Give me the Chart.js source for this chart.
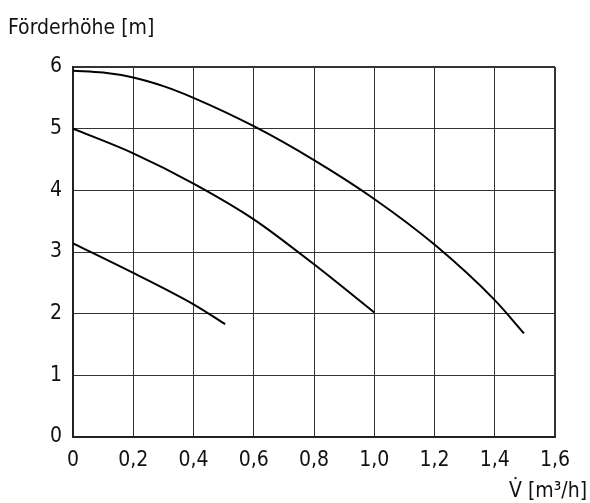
<!DOCTYPE html>
<html>
<head>
<meta charset="utf-8">
<script src="https://cdn.jsdelivr.net/npm/chart.js@4.4.1/dist/chart.umd.min.js"></script>
<style>
html, body { margin: 0; padding: 0; background: #fff; }
#box { position: relative; width: 590px; height: 503px; }
</style>
</head>
<body>
<div id="box"><canvas id="pump"></canvas></div>

<script>
// Pumpenkennlinien, Werte
var flow_hi = [0, 0.1, 0.2, 0.3, 0.4, 0.6, 0.8, 1.0, 1.2, 1.4, 1.497];
var head_hi = [5.94, 5.91, 5.83, 5.69, 5.50, 5.04, 4.49, 3.86, 3.12, 2.22, 1.68];

var flow_mid = [0, 0.2, 0.4, 0.6, 0.8, 1.0];
var head_mid = [5.0, 4.60, 4.11, 3.53, 2.80, 2.02];

var flow_lo = [0, 0.2, 0.4, 0.505];
var head_lo = [3.14, 2.66, 2.15, 1.83];

var x_ticks = [0, 0.2, 0.4, 0.6, 0.8, 1.0, 1.2, 1.4, 1.6];
var y_ticks = [0, 1, 2, 3, 4, 5, 6];

var title_y = "Förderhöhe [m]";
var title_x = "V\u0307 [m\u00b3/h]";
</script>

<script>
var FONT = "'Liberation Sans Narrow', 'DejaVu Sans', sans-serif";
var STRETCH = "condensed";

function make_points(xs, ys) {
	var pts = [];
	for (var i = 0; i < xs.length; i++) {
		pts.push({x: xs[i], y: ys[i]});
	}
	return pts;
}

function curve(xs, ys) {
	return {
		data: make_points(xs, ys),
		showLine: true,
		borderColor: '#000',
		borderWidth: 2,
		pointRadius: 0,
		cubicInterpolationMode: 'monotone',
		fill: false
	};
}

function edge_width(ctx, n) {
	return (ctx.index == n - 1) ? 2 : 1;
}

// Achsentitel direkt auf den Canvas
var text_plugin = {
	id: 'axis_texts',
	afterDraw: function(chart) {
		var c = chart.ctx;
		c.save();
		c.fillStyle = '#111';
		c.font = STRETCH + ' 21px ' + FONT;
		c.textBaseline = 'alphabetic';
		c.textAlign = 'left';
		c.fillText(title_y, 8, 34);
		c.textAlign = 'right';
		c.fillText(title_x, 587, 497);
		c.restore();
	}
};

var tick_font = { family: FONT, size: 21, weight: STRETCH };

var config = {
	type: 'scatter',
	data: {
		datasets: [
			curve(flow_hi, head_hi),
			curve(flow_mid, head_mid),
			curve(flow_lo, head_lo)
		]
	},
	options: {
		responsive: true,
		maintainAspectRatio: false,
		animation: false,
		layout: { padding: { top: 67, right: 35, bottom: 0, left: 0 } },
		plugins: { legend: { display: false }, tooltip: { enabled: false } },
		scales: {
			x: {
				type: 'linear',
				min: 0, max: 1.6,
				afterFit: function(s) { s.height = 66; },
				afterBuildTicks: function(s) { s.ticks = x_ticks.map(function(v) { return {value: v}; }); },
				ticks: {
					color: '#111',
					font: tick_font,
					padding: 11,
					maxRotation: 0,
					callback: function(v) { return v == 0 ? '0' : v.toFixed(1).replace('.', ','); }
				},
				grid: {
					color: '#333',
					lineWidth: function(ctx) { return edge_width(ctx, x_ticks.length); },
					drawTicks: false
				},
				border: { color: '#222', width: 2 }
			},
			y: {
				type: 'linear',
				min: 0, max: 6,
				afterFit: function(s) { s.width = 73; },
				afterBuildTicks: function(s) { s.ticks = y_ticks.map(function(v) { return {value: v}; }); },
				ticks: {
					color: '#111',
					font: tick_font,
					padding: 11,
					callback: function(v) { return String(v); }
				},
				grid: {
					color: '#333',
					lineWidth: function(ctx) { return edge_width(ctx, y_ticks.length); },
					drawTicks: false
				},
				border: { color: '#222', width: 2 }
			}
		}
	},
	plugins: [text_plugin]
};

var pump_chart = new Chart(document.getElementById("pump"), config);
</script>
</body>
</html>
